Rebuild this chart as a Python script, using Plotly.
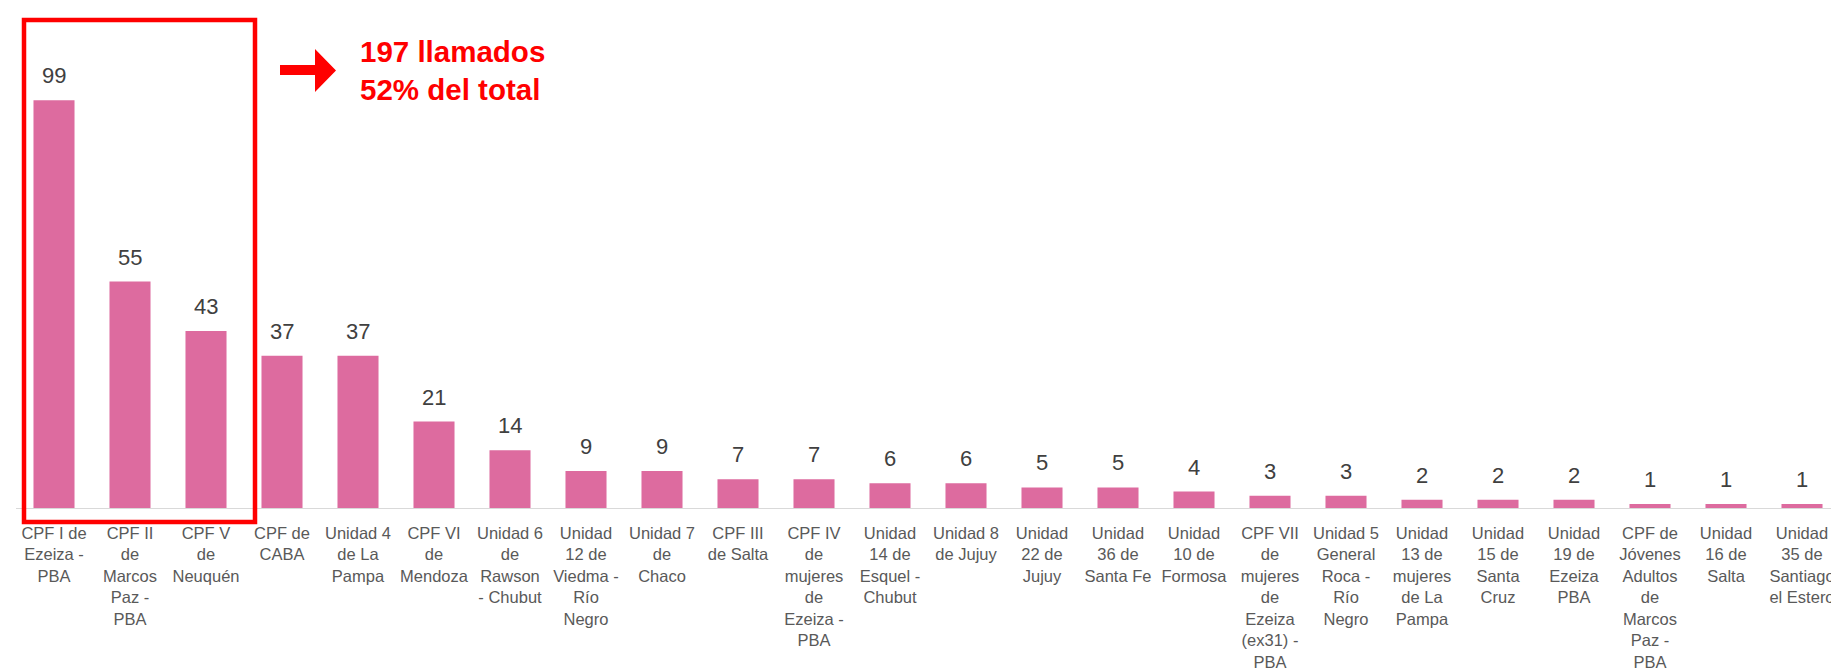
import plotly.graph_objects as go

categories = [
    "CPF I de<br>Ezeiza -<br>PBA",
    "CPF II<br>de<br>Marcos<br>Paz -<br>PBA",
    "CPF V<br>de<br>Neuquén",
    "CPF de<br>CABA",
    "Unidad 4<br>de La<br>Pampa",
    "CPF VI<br>de<br>Mendoza",
    "Unidad 6<br>de<br>Rawson<br>- Chubut",
    "Unidad<br>12 de<br>Viedma -<br>Río<br>Negro",
    "Unidad 7<br>de<br>Chaco",
    "CPF III<br>de Salta",
    "CPF IV<br>de<br>mujeres<br>de<br>Ezeiza -<br>PBA",
    "Unidad<br>14 de<br>Esquel -<br>Chubut",
    "Unidad 8<br>de Jujuy",
    "Unidad<br>22 de<br>Jujuy",
    "Unidad<br>36 de<br>Santa Fe",
    "Unidad<br>10 de<br>Formosa",
    "CPF VII<br>de<br>mujeres<br>de<br>Ezeiza<br>(ex31) -<br>PBA",
    "Unidad 5<br>General<br>Roca -<br>Río<br>Negro",
    "Unidad<br>13 de<br>mujeres<br>de La<br>Pampa",
    "Unidad<br>15 de<br>Santa<br>Cruz",
    "Unidad<br>19 de<br>Ezeiza<br>PBA",
    "CPF de<br>Jóvenes<br>Adultos<br>de<br>Marcos<br>Paz -<br>PBA",
    "Unidad<br>16 de<br>Salta",
    "Unidad<br>35 de<br>Santiago<br>el Estero",
]
values = [99, 55, 43, 37, 37, 21, 14, 9, 9, 7, 7, 6, 6, 5, 5, 4, 3, 3, 2, 2, 2, 1, 1, 1]
callout_lines = ["197 llamados", "52% del total"]

W, H = 1839, 669
ML, MR, MT, MB = 8, 7, 47, 169
PW, PH = W - ML - MR, H - MT - MB
FONT = "Liberation Sans, Arial, sans-serif"
BAR = "#DD6B9F"
RED = "#FF0000"


def px(x):
    return (x - ML) / PW


def py(y):
    return (H - MB - y) / PH


fig = go.Figure()
fig.add_trace(go.Bar(
    x=categories, y=values,
    marker=dict(color=BAR, line=dict(width=0)),
    hoverinfo="x+y",
))

for c, v in zip(categories, values):
    fig.add_annotation(
        x=c, y=v, xref="x", yref="y", text=str(v), showarrow=False,
        yanchor="bottom", yshift=10,
        font=dict(family=FONT, size=22, color="#404040"),
    )

# red highlight box
fig.add_shape(type="rect", xref="paper", yref="paper",
              x0=px(16), x1=px(247), y0=py(514), y1=py(12),
              line=dict(color=RED, width=4.5), fillcolor="rgba(0,0,0,0)")

# block arrow
ax0, ax1, atip = px(272), px(307), px(328)
s_top, s_bot = py(57), py(67)
h_top, h_bot, h_mid = py(41), py(84), py(62.5)
path = (f"M {ax0},{s_top} L {ax1},{s_top} L {ax1},{h_top} L {atip},{h_mid} "
        f"L {ax1},{h_bot} L {ax1},{s_bot} L {ax0},{s_bot} Z")
fig.add_shape(type="path", xref="paper", yref="paper", path=path,
              fillcolor=RED, line=dict(color=RED, width=0))

fig.add_annotation(
    xref="paper", yref="paper", x=px(350), y=py(25),
    xanchor="left", yanchor="top", align="left", showarrow=False,
    text="<b>" + "<br>".join(callout_lines) + "</b>",
    font=dict(family=FONT, size=29.5, color=RED),
)

fig.update_layout(
    width=W, height=H,
    margin=dict(l=ML, r=MR, t=MT, b=MB, pad=0),
    paper_bgcolor="white", plot_bgcolor="white",
    bargap=0.46, showlegend=False,
    xaxis=dict(
        showline=True, linecolor="#D9D9D9", linewidth=1,
        showgrid=False, ticks="", zeroline=False,
        tickfont=dict(family=FONT, size=16.5, color="#595959"),
        tickangle=0, automargin=False, ticklabelstandoff=10,
    ),
    yaxis=dict(range=[0, 110], visible=False, showgrid=False, zeroline=False),
)

fig.write_html("out.html")
